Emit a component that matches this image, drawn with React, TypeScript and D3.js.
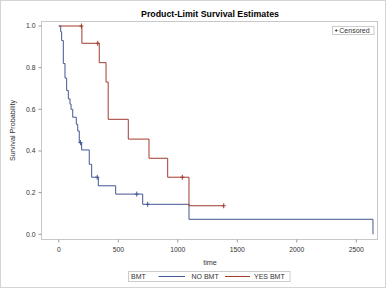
import React from "react";
import * as d3 from "d3";

const W = 386;
const H = 290;

// NO BMT group: event times and survival after each event
const noTimes = [0, 16, 24, 38, 52, 66, 80, 94, 103, 117, 147, 159, 172, 192, 256, 276, 332, 478, 705, 1094, 2640];
const noSurv = [1.0, 0.972, 0.93, 0.82, 0.75, 0.69, 0.65, 0.625, 0.6, 0.562, 0.528, 0.496, 0.44, 0.405, 0.336, 0.274, 0.233, 0.193, 0.144, 0.072, 0.0];
const noCensor = [182, 323, 655, 747];

// YES BMT group
const yesTimes = [0, 194, 340, 397, 415, 584, 758, 915, 1094, 1386];
const yesSurv = [1.0, 0.917, 0.824, 0.731, 0.552, 0.457, 0.365, 0.274, 0.137, 0.137];
const yesCensor = [190, 327, 1038, 1386];

const xTicks = [0, 500, 1000, 1500, 2000, 2500];
const yTicks = [0, 0.2, 0.4, 0.6, 0.8, 1.0];
const groupNames = ["NO BMT", "YES BMT"];
const colors = ["#445694", "#A23A2E"];

const frame = { l: 41.5, t: 21.5, r: 377.5, b: 239.5 };

function survAt(times: number[], surv: number[], t: number) {
  let v = surv[0];
  for (let i = 0; i < times.length; i++) if (times[i] <= t) v = surv[i];
  return v;
}

export default function App() {
  const x = d3.scaleLinear().domain([0, 2500]).range([58.8, 356.3]);
  const y = d3.scaleLinear().domain([0, 1]).range([234.3, 26]);
  const line = d3
    .line<[number, number]>()
    .x((d) => x(d[0]))
    .y((d) => y(d[1]))
    .curve(d3.curveStepAfter);

  const groups = [
    { times: noTimes, surv: noSurv, cens: noCensor },
    { times: yesTimes, surv: yesSurv, cens: yesCensor },
  ];
  const font = "'Liberation Sans', Arial, sans-serif";

  return (
    <svg
      width={W}
      height={H}
      style={{ position: "absolute", left: 0, top: 0, fontFamily: font }}
    >
      <rect x={0} y={0} width={W} height={H} fill="#fff" />
      <rect x={0.5} y={0.5} width={385} height={287} fill="none" stroke="#d4d4d4" />
      <text x={210} y={16.5} textAnchor="middle" fontWeight="bold" fontSize={8.8} fill="#000">
        Product-Limit Survival Estimates
      </text>
      <rect
        x={frame.l}
        y={frame.t}
        width={frame.r - frame.l}
        height={frame.b - frame.t}
        fill="none"
        stroke="#c8c8c8"
      />
      {yTicks.map((t) => (
        <g key={"y" + t}>
          <line x1={38.5} x2={frame.l} y1={y(t)} y2={y(t)} stroke="#999" />
          <text x={35.5} y={y(t) + 2.4} textAnchor="end" fontSize={6.8} fill="#333">
            {t.toFixed(1)}
          </text>
        </g>
      ))}
      {xTicks.map((t) => (
        <g key={"x" + t}>
          <line x1={x(t)} x2={x(t)} y1={frame.b} y2={frame.b + 3} stroke="#999" />
          <text x={x(t)} y={251.5} textAnchor="middle" fontSize={6.8} fill="#333">
            {t}
          </text>
        </g>
      ))}
      <text x={210} y={265} textAnchor="middle" fontSize={7.2} fill="#333">
        time
      </text>
      <text
        transform={`translate(14.5,${(frame.t + frame.b) / 2}) rotate(-90)`}
        textAnchor="middle"
        fontSize={7.2}
        fill="#333"
      >
        Survival Probability
      </text>
      {groups.map((g, gi) => {
        const pts: [number, number][] = g.times.map((t, i) => [t, g.surv[i]]);
        return (
          <g key={gi}>
            <path d={line(pts) || ""} fill="none" stroke={colors[gi]} strokeWidth={1} />
            {g.cens.map((c, ci) => {
              const v = survAt(g.times, g.surv, c);
              return (
                <g key={ci} stroke={colors[gi]} strokeWidth={1}>
                  <line x1={x(c)} x2={x(c)} y1={y(v) - 2.5} y2={y(v) + 2.5} />
                  <line x1={x(c) - 2} x2={x(c) + 2} y1={y(v)} y2={y(v)} />
                </g>
              );
            })}
          </g>
        );
      })}
      {/* Censored legend */}
      <rect x={332.5} y={26.5} width={41.5} height={8} fill="#fff" stroke="#ccc" />
      <g stroke="#333" strokeWidth={0.8}>
        <line x1={335} x2={337.6} y1={30.5} y2={30.5} />
        <line x1={336.3} x2={336.3} y1={29.2} y2={31.8} />
      </g>
      <text x={339.3} y={33.2} fontSize={7} fill="#333">
        Censored
      </text>
      {/* Group legend */}
      <rect x={128.5} y={271.5} width={161.5} height={10} fill="#fff" stroke="#ccc" />
      <text x={131} y={279.3} fontSize={7} fill="#333">
        BMT
      </text>
      <line x1={158.5} x2={185} y1={276.5} y2={276.5} stroke={colors[0]} />
      <text x={191.5} y={279.3} fontSize={7} fill="#333">
        {groupNames[0]}
      </text>
      <line x1={225} x2={250} y1={276.5} y2={276.5} stroke={colors[1]} />
      <text x={254} y={279.3} fontSize={7} fill="#333">
        {groupNames[1]}
      </text>
    </svg>
  );
}
